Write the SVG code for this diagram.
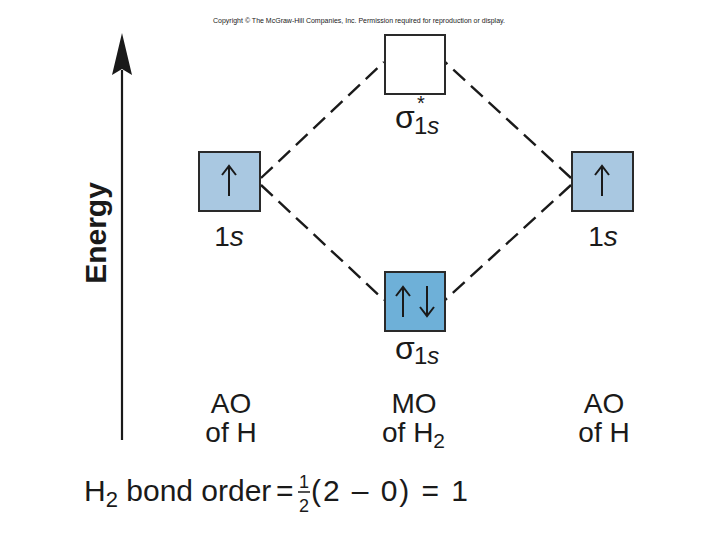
<svg xmlns="http://www.w3.org/2000/svg" width="720" height="540" viewBox="0 0 720 540">
<style>
text{font-family:"Liberation Sans",Arial,sans-serif;fill:#1a1a1a}
.box{stroke:#2a2a2a;stroke-width:2}
.ao{fill:#a9c8e1}
.mo{fill:#6eb0d8}
.conn{stroke:#1a1a1a;stroke-width:2.4;stroke-dasharray:16 8;fill:none}
.spin{stroke:#1a1a1a;stroke-width:2;fill:none}
.lbl{font-size:28px;text-anchor:middle}
</style>
<rect width="720" height="540" fill="#fff"/>
<text x="359" y="23" font-size="7" text-anchor="middle" fill="#444">Copyright © The McGraw-Hill Companies, Inc. Permission required for reproduction or display.</text>
<g id="energy-axis">
<line x1="122" y1="440" x2="122" y2="70" stroke="#1a1a1a" stroke-width="2.2"/>
<path d="M122 33 L132 75 L122 69 L112 75 Z" fill="#1a1a1a"/>
<text transform="translate(106,233) rotate(-90)" font-size="30" font-weight="bold" text-anchor="middle">Energy</text>
</g>
<g id="connectors">
<line class="conn" x1="261" y1="178" x2="384" y2="62"/>
<line class="conn" x1="261" y1="185" x2="384" y2="300"/>
<line class="conn" x1="571" y1="178" x2="445" y2="62"/>
<line class="conn" x1="571" y1="185" x2="445" y2="300"/>
</g>
<g id="ao-left">
<rect class="box ao" x="199" y="152" width="61" height="59"/>
<line class="spin" x1="229" y1="196" x2="229" y2="167"/>
<path class="spin" d="M222 175 L229 166 L236 175"/>
<text class="lbl" x="229" y="246">1<tspan font-style="italic">s</tspan></text>
</g>
<g id="ao-right">
<rect class="box ao" x="572" y="152" width="61" height="59"/>
<line class="spin" x1="602" y1="196" x2="602" y2="167"/>
<path class="spin" d="M595 175 L602 166 L609 175"/>
<text class="lbl" x="603" y="246">1<tspan font-style="italic">s</tspan></text>
</g>
<g id="mo-antibonding">
<rect class="box" fill="#fff" x="385" y="35" width="60" height="59"/>
<text x="395" y="128" font-size="32">σ</text>
<text x="417" y="110" font-size="20">*</text>
<text x="414" y="134" font-size="24">1<tspan font-style="italic">s</tspan></text>
</g>
<g id="mo-bonding">
<rect class="box mo" x="385" y="272" width="60" height="59"/>
<line class="spin" x1="403" y1="317" x2="403" y2="287"/>
<path class="spin" d="M396 296 L403 287 L410 296"/>
<line class="spin" x1="427" y1="286" x2="427" y2="316"/>
<path class="spin" d="M420 307 L427 316 L434 307"/>
<text x="395" y="359" font-size="32">σ</text>
<text x="414" y="364" font-size="24">1<tspan font-style="italic">s</tspan></text>
</g>
<g id="labels">
<text class="lbl" x="231" y="413">AO</text>
<text class="lbl" x="231" y="442">of H</text>
<text class="lbl" x="414" y="413">MO</text>
<text x="382" y="442" font-size="28">of H<tspan font-size="21" dy="6">2</tspan></text>
<text class="lbl" x="604" y="413">AO</text>
<text class="lbl" x="604" y="442">of H</text>
</g>
<g id="bond-order">
<text x="84" y="501" font-size="30">H<tspan font-size="22" dy="6">2</tspan><tspan dy="-6"> bond order</tspan></text>
<text x="276" y="501" font-size="30">=</text>
<text x="304" y="488" font-size="18" text-anchor="middle">1</text>
<line x1="298" y1="492" x2="310" y2="492" stroke="#1a1a1a" stroke-width="1.5"/>
<text x="304" y="512" font-size="18" text-anchor="middle">2</text>
<text x="311" y="501" font-size="30" textLength="157" lengthAdjust="spacing">(2 – 0) = 1</text>
</g>
</svg>
